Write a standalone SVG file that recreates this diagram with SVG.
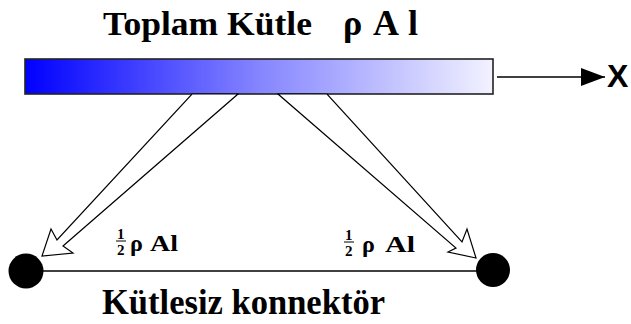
<svg xmlns="http://www.w3.org/2000/svg" width="631" height="324" viewBox="0 0 631 324">
<style>
.t{font-family:"Liberation Serif","Times New Roman",serif;font-weight:bold;fill:#000}
.blk{fill:#fff;stroke:#000;stroke-width:1.2;stroke-linejoin:miter}
.ln{stroke:#000;stroke-width:1.5;fill:none}
.mass{fill:#000}
</style>
<defs>
<linearGradient id="g" x1="0" y1="0" x2="1" y2="0">
<stop offset="0" stop-color="#0000ff"/>
<stop offset="0.5" stop-color="#8585ff"/>
<stop offset="1" stop-color="#f2f2ff"/>
</linearGradient>
<marker id="ah" markerWidth="26" markerHeight="20" refX="24" refY="10" orient="auto" markerUnits="userSpaceOnUse">
<path d="M0,1 L24,10 L0,19 Z" fill="#000"/>
</marker>
</defs>
<text class="t" x="103" y="35" font-size="34" textLength="209" lengthAdjust="spacingAndGlyphs">Toplam Kütle</text>
<text class="t" x="343" y="35" font-size="36">ρ</text>
<text class="t" x="373" y="35" font-size="36">A</text>
<text class="t" x="408" y="35" font-size="36">l</text>
<g id="bar">
<rect x="25" y="59" width="468" height="35" fill="url(#g)" stroke="#222" stroke-width="1.6"/>
</g>
<g id="connectors">
<line class="ln" x1="497" y1="77" x2="605" y2="77" marker-end="url(#ah)"/>
<polygon class="blk" points="192,94 238,94 63,246 73,253 42,256 51,229 57,240"/>
<polygon class="blk" points="278,94 327,94 462,242 467,229 476,258 448,252 456,248"/>
<line class="ln" x1="42" y1="271" x2="477" y2="271"/>
</g>
<text class="t" x="607" y="87" font-size="32" style="font-family:'Liberation Sans',Arial,sans-serif">X</text>
<g id="mass-left">
<circle class="mass" cx="26" cy="271" r="17.5"/>
</g>
<g id="mass-right">
<circle class="mass" cx="493" cy="270" r="17"/>
</g>
<g id="label-left">
<text class="t" x="117" y="239" font-size="15">1</text>
<line x1="116" y1="241" x2="126" y2="241" stroke="#000" stroke-width="1"/>
<text class="t" x="117" y="255" font-size="15">2</text>
<text class="t" x="130" y="251" font-size="24">ρ</text>
<text class="t" x="150" y="251" font-size="24" textLength="28" lengthAdjust="spacingAndGlyphs">Al</text>
</g>
<g id="label-right">
<text class="t" x="345" y="240" font-size="15">1</text>
<line x1="344" y1="242" x2="354" y2="242" stroke="#000" stroke-width="1"/>
<text class="t" x="345" y="256" font-size="15">2</text>
<text class="t" x="362" y="252" font-size="24">ρ</text>
<text class="t" x="385" y="252" font-size="24" textLength="30" lengthAdjust="spacingAndGlyphs">Al</text>
</g>
<text class="t" x="102" y="314" font-size="35" textLength="283" lengthAdjust="spacingAndGlyphs">Kütlesiz konnektör</text>
</svg>
